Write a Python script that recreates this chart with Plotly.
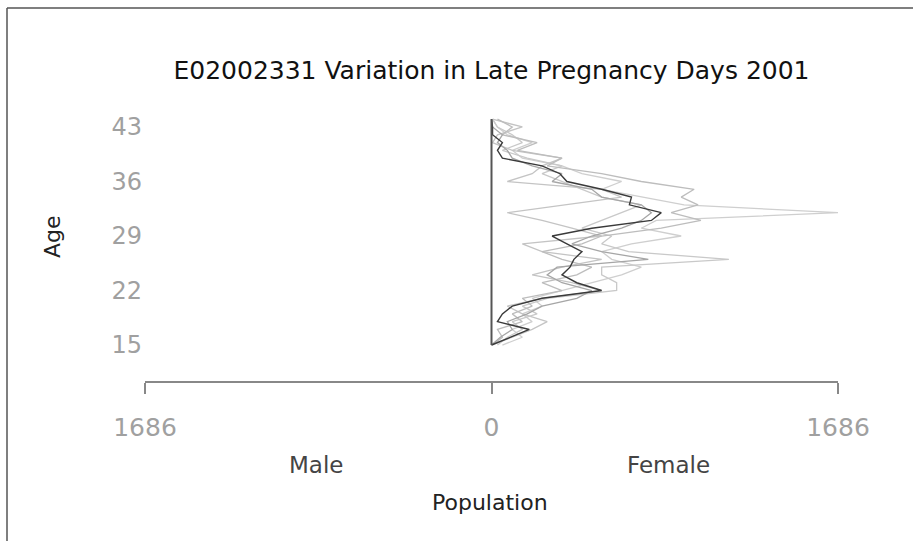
import plotly.graph_objects as go

ages = list(range(15, 45))
x_max = 1686
x_tick_vals = [-1686, 0, 1686]
x_tick_text = ["1686", "0", "1686"]
y_tick_vals = [15, 22, 29, 36, 43]

male_zero = [0] * len(ages)

female_dark = [0, 92, 184, 29, 53, 101, 246, 536, 415, 343, 382, 401, 440, 367, 295,
               488, 778, 826, 671, 681, 536, 367, 333, 246, 53, 29, 53, 5, 5, 0]
female_g1 = [53, 150, 101, 198, 150, 246, 198, 343, 488, 633, 729, 585, 536, 681, 923,
             729, 802, 1686, 937, 729, 536, 633, 440, 343, 150, 101, 198, 77, 29, 5]
female_g2 = [0, 101, 198, 271, 150, 77, 246, 536, 391, 198, 343, 536, 246, 150, 536,
             391, 246, 77, 343, 633, 536, 77, 198, 246, 343, 101, 5, 29, 150, 5]
female_g3 = [29, 77, 150, 101, 222, 150, 271, 609, 609, 536, 536, 1155, 667, 536, 585,
             440, 536, 633, 729, 536, 440, 343, 246, 343, 174, 53, 150, 101, 29, 5]
female_g4 = [5, 53, 29, 150, 101, 198, 150, 343, 246, 415, 488, 343, 246, 440, 536,
             826, 1019, 874, 1005, 923, 986, 729, 536, 271, 343, 126, 222, 53, 101, 29]
female_g5 = [0, 43, 101, 77, 174, 246, 415, 488, 343, 271, 319, 763, 536, 391, 488,
             633, 729, 778, 729, 536, 488, 295, 343, 198, 101, 77, 29, 53, 5, 0]

grey_series = [
    (female_g1, "#cfcfcf"),
    (female_g2, "#c4c4c4"),
    (female_g3, "#c9c9c9"),
    (female_g4, "#bdbdbd"),
    (female_g5, "#a6a6a6"),
]

fig = go.Figure()
for vals, col in grey_series:
    fig.add_trace(go.Scatter(x=vals, y=ages, mode="lines",
                             line=dict(color=col, width=1.3), showlegend=False))
fig.add_trace(go.Scatter(x=female_dark, y=ages, mode="lines",
                         line=dict(color="#3a3a3a", width=1.4), showlegend=False))
fig.add_trace(go.Scatter(x=[-v for v in male_zero], y=ages, mode="lines",
                         line=dict(color="#555555", width=2), showlegend=False))

L, R, T, B = 145, 75, 115, 160
W, H = 913, 541
pw, ph = W - L - R, H - T - B


def px(x):
    return (x - L) / pw


def py(y):
    return (H - B - y) / ph


font = "DejaVu Sans"
fig.update_layout(
    width=W, height=H,
    margin=dict(l=L, r=R, t=T, b=B),
    paper_bgcolor="white", plot_bgcolor="white",
    font=dict(family=font),
    title=dict(text="E02002331 Variation in Late Pregnancy Days 2001",
               x=0.5, xref="paper", xanchor="center",
               y=1 - 70 / H, yanchor="middle",
               font=dict(size=25, color="#111111", family=font)),
    xaxis=dict(range=[-x_max, x_max], tickvals=x_tick_vals, ticktext=x_tick_text,
               showgrid=False, zeroline=False, showline=True, linecolor="#888888",
               linewidth=1.5, ticks="outside", ticklen=11, tickcolor="#888888",
               tickwidth=1.5, ticklabelstandoff=12,
               tickfont=dict(size=25, color="#a0a0a0", family=font)),
    yaxis=dict(range=[10.38, 44.54], tickvals=y_tick_vals,
               showgrid=False, zeroline=False, showline=False, ticks="",
               ticklabelstandoff=2,
               tickfont=dict(size=24, color="#a0a0a0", family=font)),
    annotations=[
        dict(text="Male", x=px(316), y=py(465), xref="paper", yref="paper",
             showarrow=False, xanchor="center", yanchor="middle",
             font=dict(size=23, color="#444444", family=font)),
        dict(text="Female", x=px(668), y=py(465), xref="paper", yref="paper",
             showarrow=False, xanchor="center", yanchor="middle",
             font=dict(size=23, color="#444444", family=font)),
        dict(text="Population", x=px(490), y=py(502), xref="paper", yref="paper",
             showarrow=False, xanchor="center", yanchor="middle",
             font=dict(size=22, color="#222222", family=font)),
        dict(text="Age", x=px(52), y=py(237), xref="paper", yref="paper",
             showarrow=False, xanchor="center", yanchor="middle", textangle=-90,
             font=dict(size=22, color="#222222", family=font)),
    ],
    shapes=[
        dict(type="line", xref="paper", yref="paper", x0=px(7), x1=px(930),
             y0=py(8), y1=py(8), line=dict(color="#555555", width=1.5)),
        dict(type="line", xref="paper", yref="paper", x0=px(7), x1=px(7),
             y0=py(8), y1=py(560), line=dict(color="#555555", width=1.5)),
    ],
)

fig.write_html("out.html")
